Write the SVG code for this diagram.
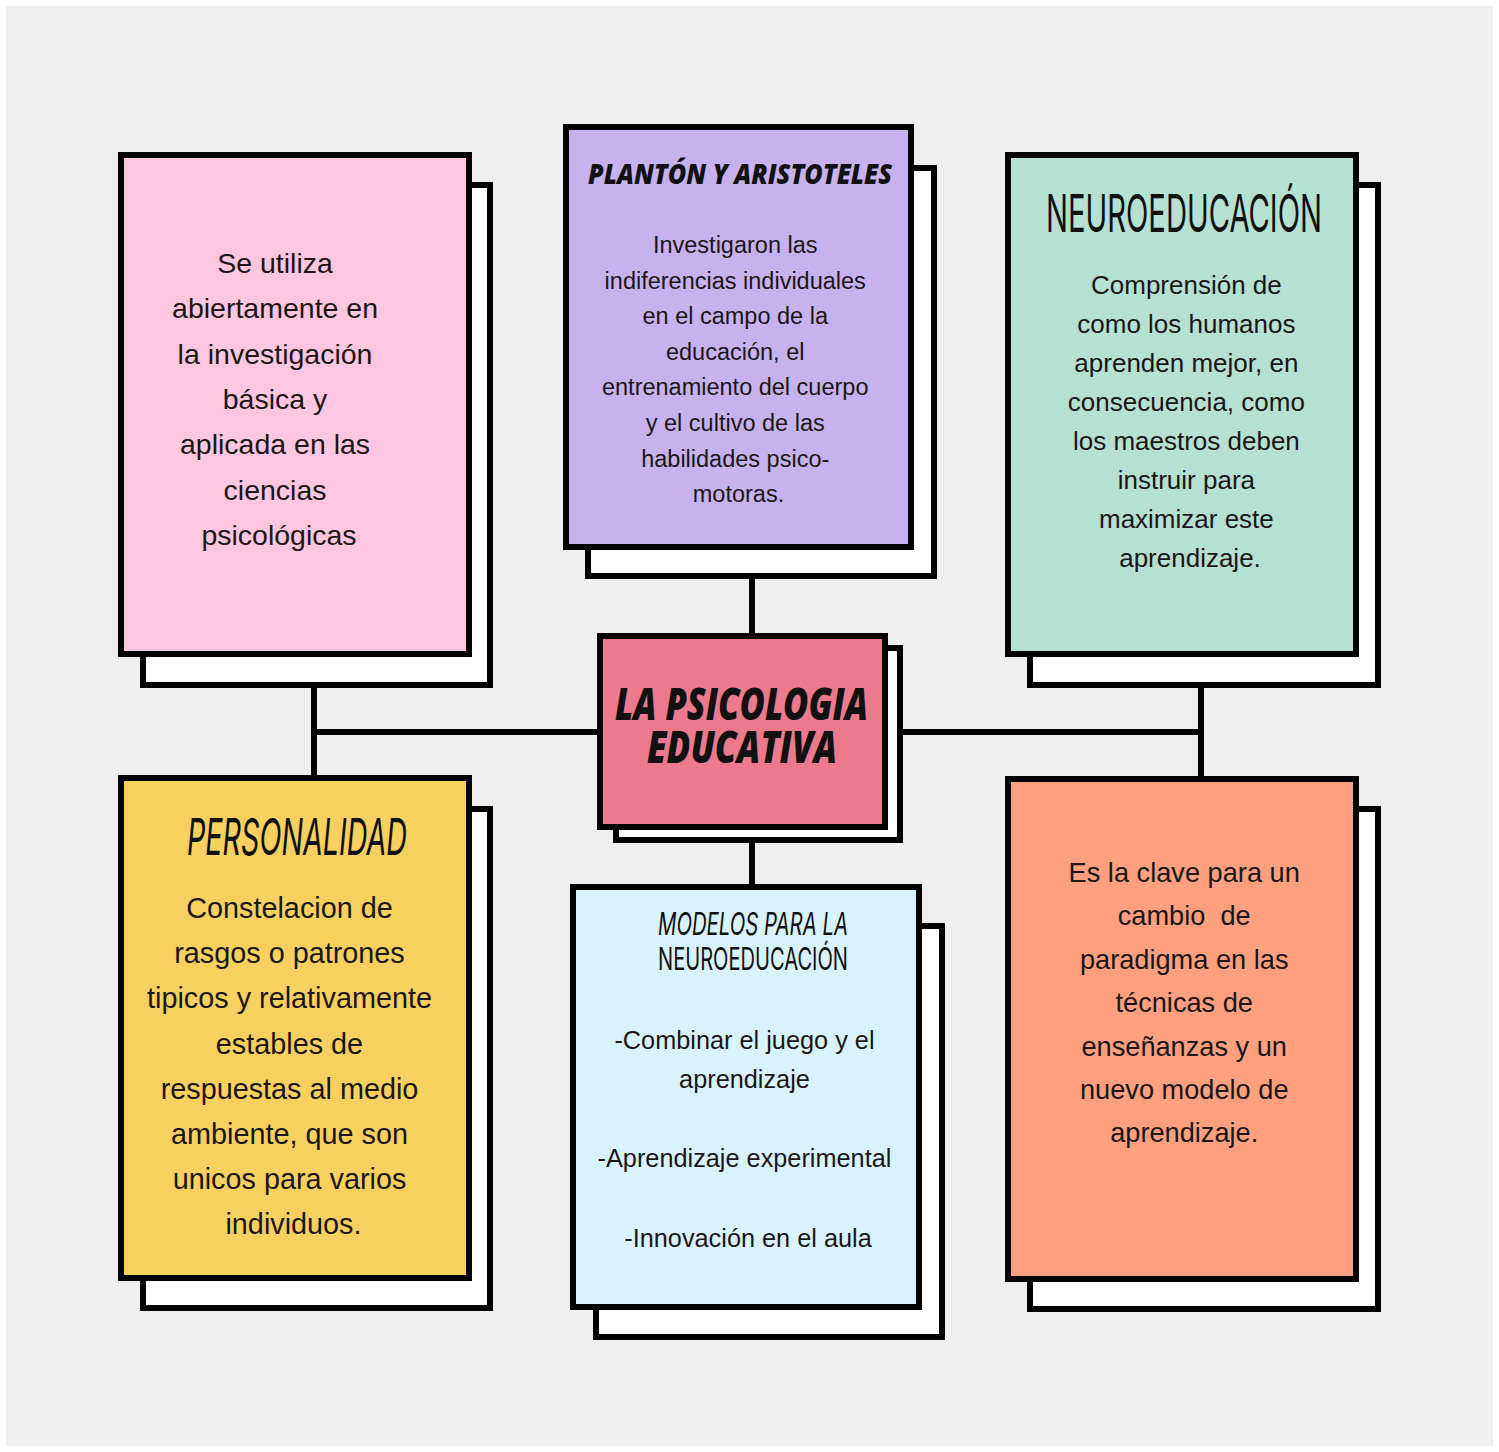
<svg xmlns="http://www.w3.org/2000/svg" width="1499" height="1452" viewBox="0 0 1499 1452">
<style>
.back{fill:#ffffff;stroke:#000;stroke-width:6}
.front{stroke:#000;stroke-width:6}
.conn{stroke:#000;stroke-width:6;fill:none}
.body{font-family:"Liberation Sans",Arial,sans-serif;fill:#1c1616;text-anchor:middle}
.hand{font-family:Inter,"Liberation Sans",sans-serif;font-weight:400;fill:#111;text-anchor:middle}
.bold{font-family:"Open Sans","Liberation Sans",sans-serif;font-weight:800;font-style:italic;fill:#111;text-anchor:middle}
</style>
<rect x="0" y="0" width="1499" height="1452" fill="#ffffff"/>
<rect x="6" y="6" width="1487" height="1440" fill="#efefef"/>

<g id="connectors">
<path class="conn" d="M314,688 V776 M314,732 H598 M902,732 H1201 M1201,688 V777 M752,578 V634 M752,842 V885"/>
</g>

<g id="node-pink">
<rect class="back" x="143" y="185" width="347" height="500"/>
<rect class="front" x="121" y="155" width="348" height="499" fill="#fec6df"/>
<text class="body" font-size="28.5">
<tspan x="279" y="273">Se utiliza</tspan>
<tspan x="279" y="318.3">abiertamente en</tspan>
<tspan x="279" y="363.6">la investigación</tspan>
<tspan x="279" y="409">básica y</tspan>
<tspan x="279" y="454.2">aplicada en las</tspan>
<tspan x="279" y="499.5">ciencias</tspan>
<tspan x="279" y="545">psicológicas</tspan>
</text>
</g>

<g id="node-platon">
<rect class="back" x="588" y="168" width="346" height="408"/>
<rect class="front" x="566" y="127" width="345" height="420" fill="#c6b2ee"/>
<text class="bold" font-size="29" x="740" y="184" textLength="304" lengthAdjust="spacingAndGlyphs">PLANTÓN Y ARISTOTELES</text>
<text class="body" font-size="23.5">
<tspan x="738.5" y="253">Investigaron las</tspan>
<tspan x="738.5" y="288.6">indiferencias individuales</tspan>
<tspan x="738.5" y="324.2">en el campo de la</tspan>
<tspan x="738.5" y="359.8">educación, el</tspan>
<tspan x="738.5" y="395.4">entrenamiento del cuerpo</tspan>
<tspan x="738.5" y="431">y el cultivo de las</tspan>
<tspan x="738.5" y="466.6">habilidades psico-</tspan>
<tspan x="738.5" y="502">motoras.</tspan>
</text>
</g>

<g id="node-neuro">
<rect class="back" x="1030" y="185" width="348" height="500"/>
<rect class="front" x="1008" y="155" width="348" height="499" fill="#b5e0d2"/>
<text class="hand" font-size="52" x="1184" y="232" textLength="276" lengthAdjust="spacingAndGlyphs">NEUROEDUCACIÓN</text>
<text class="body" font-size="26">
<tspan x="1190" y="294">Comprensión de</tspan>
<tspan x="1190" y="333">como los humanos</tspan>
<tspan x="1190" y="372">aprenden mejor, en</tspan>
<tspan x="1190" y="411">consecuencia, como</tspan>
<tspan x="1190" y="450">los maestros deben</tspan>
<tspan x="1190" y="489">instruir para</tspan>
<tspan x="1190" y="528">maximizar este</tspan>
<tspan x="1190" y="567">aprendizaje.</tspan>
</text>
</g>

<g id="node-center">
<rect class="back" x="616" y="648" width="284" height="192"/>
<rect class="front" x="600" y="636" width="285" height="191" fill="#ec7a8c"/>
<text class="bold" font-size="44" x="741.5" y="720" textLength="253" lengthAdjust="spacingAndGlyphs">LA PSICOLOGIA</text>
<text class="bold" font-size="44" x="742" y="763" textLength="190" lengthAdjust="spacingAndGlyphs">EDUCATIVA</text>
</g>

<g id="node-personalidad">
<rect class="back" x="143" y="809" width="347" height="499"/>
<rect class="front" x="121" y="778" width="348" height="500" fill="#f8d05f"/>
<text class="hand" font-size="51" x="297" y="855" textLength="220" lengthAdjust="spacingAndGlyphs" font-style="italic">PERSONALIDAD</text>
<text class="body" font-size="28.8">
<tspan x="293.5" y="918">Constelacion de</tspan>
<tspan x="293.5" y="963.2">rasgos o patrones</tspan>
<tspan x="293.5" y="1008.4">tipicos y relativamente</tspan>
<tspan x="293.5" y="1053.6">estables de</tspan>
<tspan x="293.5" y="1098.8">respuestas al medio</tspan>
<tspan x="293.5" y="1144">ambiente, que son</tspan>
<tspan x="293.5" y="1189.2">unicos para varios</tspan>
<tspan x="293.5" y="1234.4">individuos.</tspan>
</text>
</g>

<g id="node-modelos">
<rect class="back" x="596" y="926" width="346" height="411"/>
<rect class="front" x="573" y="887" width="346" height="420" fill="#d8f3fd"/>
<text class="hand" font-size="31" x="753" y="935" textLength="190" lengthAdjust="spacingAndGlyphs" font-style="italic">MODELOS PARA LA</text>
<text class="hand" font-size="31" x="753" y="970" textLength="190" lengthAdjust="spacingAndGlyphs">NEUROEDUCACIÓN</text>
<text class="body" font-size="25.3">
<tspan x="748" y="1049">-Combinar el juego y el</tspan>
<tspan x="748" y="1088">aprendizaje</tspan>
<tspan x="748" y="1167">-Aprendizaje experimental</tspan>
<tspan x="748" y="1247">-Innovación en el aula</tspan>
</text>
</g>

<g id="node-clave">
<rect class="back" x="1030" y="809" width="348" height="500"/>
<rect class="front" x="1008" y="779" width="348" height="500" fill="#fea07f"/>
<text class="body" font-size="27.2" style="white-space:pre">
<tspan x="1188" y="882">Es la clave para un</tspan>
<tspan x="1188" y="925.4">cambio  de</tspan>
<tspan x="1188" y="968.8">paradigma en las</tspan>
<tspan x="1188" y="1012.2">técnicas de</tspan>
<tspan x="1188" y="1055.6">enseñanzas y un</tspan>
<tspan x="1188" y="1099">nuevo modelo de</tspan>
<tspan x="1188" y="1142.4">aprendizaje.</tspan>
</text>
</g>
</svg>
